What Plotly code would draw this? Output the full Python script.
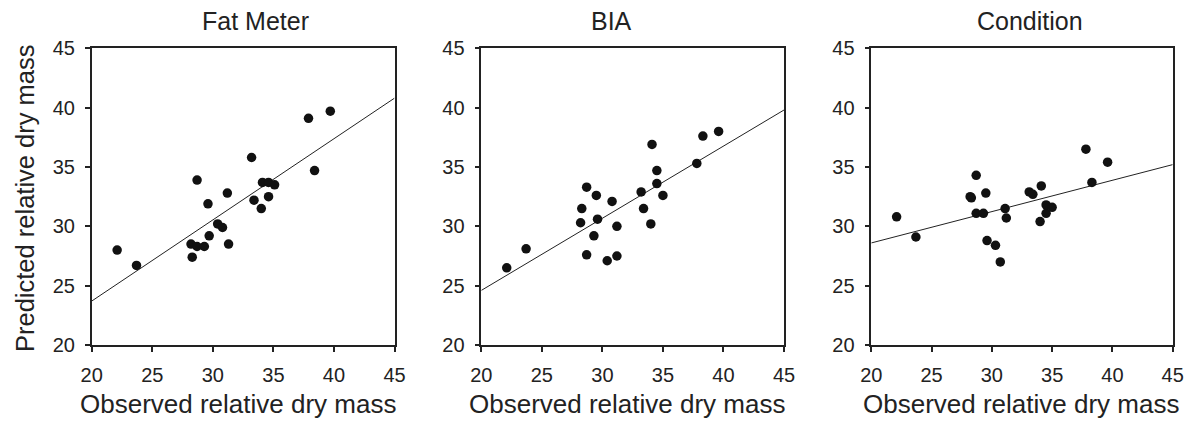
import plotly.graph_objects as go

# ---- data ----
panel_titles = ["Fat Meter", "BIA", "Condition"]
x_title = "Observed relative dry mass"
y_title = "Predicted relative dry mass"
tick_vals = [20, 25, 30, 35, 40, 45]

fat_x = [22.1, 23.7, 28.2, 28.3, 28.7, 29.3, 28.7, 29.6, 29.7, 30.4, 30.8, 31.2,
         31.3, 33.2, 33.4, 34.0, 34.1, 34.6, 34.6, 35.1, 37.9, 38.4, 39.7]
fat_y = [28.0, 26.7, 28.5, 27.4, 28.3, 28.3, 33.9, 31.9, 29.2, 30.2, 29.9, 32.8,
         28.5, 35.8, 32.2, 31.5, 33.7, 33.7, 32.5, 33.5, 39.1, 34.7, 39.7]
fat_line_x = [20, 45]
fat_line_y = [23.7, 40.8]

bia_x = [22.1, 23.7, 28.7, 30.4, 31.2, 29.3, 28.2, 29.6, 31.2, 28.3, 28.7, 29.5,
         30.8, 33.2, 33.4, 34.0, 34.1, 34.5, 34.5, 35.0, 37.8, 38.3, 39.6]
bia_y = [26.5, 28.1, 27.6, 27.1, 27.5, 29.2, 30.3, 30.6, 30.0, 31.5, 33.3, 32.6,
         32.1, 32.9, 31.5, 30.2, 36.9, 34.7, 33.6, 32.6, 35.3, 37.6, 38.0]
bia_line_x = [20, 45]
bia_line_y = [24.6, 39.8]

con_x = [22.1, 23.7, 28.2, 28.3, 28.7, 28.7, 29.3, 29.5, 29.6, 30.3, 30.7, 31.1,
         31.2, 33.1, 33.4, 34.0, 34.1, 34.5, 34.5, 35.0, 37.8, 38.3, 39.6]
con_y = [30.8, 29.1, 32.5, 32.4, 34.3, 31.1, 31.1, 32.8, 28.8, 28.4, 27.0, 31.5,
         30.7, 32.9, 32.7, 30.4, 33.4, 31.1, 31.8, 31.6, 36.5, 33.7, 35.4]
con_line_x = [20, 45]
con_line_y = [28.6, 35.2]

series = [
    (fat_x, fat_y, fat_line_x, fat_line_y),
    (bia_x, bia_y, bia_line_x, bia_line_y),
    (con_x, con_y, con_line_x, con_line_y),
]

# ---- layout geometry (pixels, in screen coords; page body has 8px offset) ----
W, H = 1192, 425
OFF = 8
x_px = [(91.7, 394.5), (481.3, 784.0), (871.3, 1172.7)]
y_px = (48.3, 345.0)  # top, bottom
title_cx = [255, 611, 1030]
xtitle_cx = [238, 627, 1021]


def px_x(v):
    return (v - OFF) / W


def px_y(v):
    return (H - (v - OFF)) / H


FONT = "Liberation Sans, Arial, sans-serif"
INK = "#222222"

fig = go.Figure()
for i, (sx, sy, lx, ly) in enumerate(series):
    xa = "x" if i == 0 else f"x{i+1}"
    ya = "y" if i == 0 else f"y{i+1}"
    fig.add_trace(go.Scatter(x=lx, y=ly, mode="lines", xaxis=xa, yaxis=ya,
                             line=dict(color=INK, width=1), showlegend=False,
                             hoverinfo="skip"))
    fig.add_trace(go.Scatter(x=sx, y=sy, mode="markers", xaxis=xa, yaxis=ya,
                             marker=dict(color="#111111", size=9.5, line=dict(width=0)),
                             showlegend=False))

ydom = [px_y(y_px[1]), px_y(y_px[0])]
axis_common = dict(range=[20, 45], tickvals=tick_vals, showgrid=False, zeroline=False,
                   showline=True, linecolor=INK, linewidth=1.5, mirror=True,
                   ticks="outside", ticklen=5, tickcolor=INK, tickwidth=1.5,
                   automargin=False,
                   tickfont=dict(family=FONT, size=20, color=INK))
layout = {}
for i in range(3):
    xk = "xaxis" if i == 0 else f"xaxis{i+1}"
    yk = "yaxis" if i == 0 else f"yaxis{i+1}"
    xa = "x" if i == 0 else f"x{i+1}"
    ya = "y" if i == 0 else f"y{i+1}"
    layout[xk] = dict(axis_common, domain=[px_x(x_px[i][0]), px_x(x_px[i][1])], anchor=ya,
                      ticklabelstandoff=6)
    layout[yk] = dict(axis_common, domain=ydom, anchor=xa, ticklabelstandoff=6)

annotations = []
for i in range(3):
    annotations.append(dict(text=panel_titles[i], x=px_x(title_cx[i]), y=px_y(21),
                            xref="paper", yref="paper", showarrow=False,
                            xanchor="center", yanchor="middle",
                            font=dict(family=FONT, size=25, color=INK)))
    annotations.append(dict(text=x_title, x=px_x(xtitle_cx[i]), y=px_y(404),
                            xref="paper", yref="paper", showarrow=False,
                            xanchor="center", yanchor="middle",
                            font=dict(family=FONT, size=26, color=INK)))
annotations.append(dict(text=y_title, x=px_x(25), y=px_y(198), textangle=-90,
                        xref="paper", yref="paper", showarrow=False,
                        xanchor="center", yanchor="middle",
                        font=dict(family=FONT, size=25.5, color=INK)))

fig.update_layout(width=W, height=H, margin=dict(l=0, r=0, t=0, b=0, autoexpand=False),
                  paper_bgcolor="white", plot_bgcolor="white",
                  annotations=annotations, **layout)

fig.write_html("out.html")
